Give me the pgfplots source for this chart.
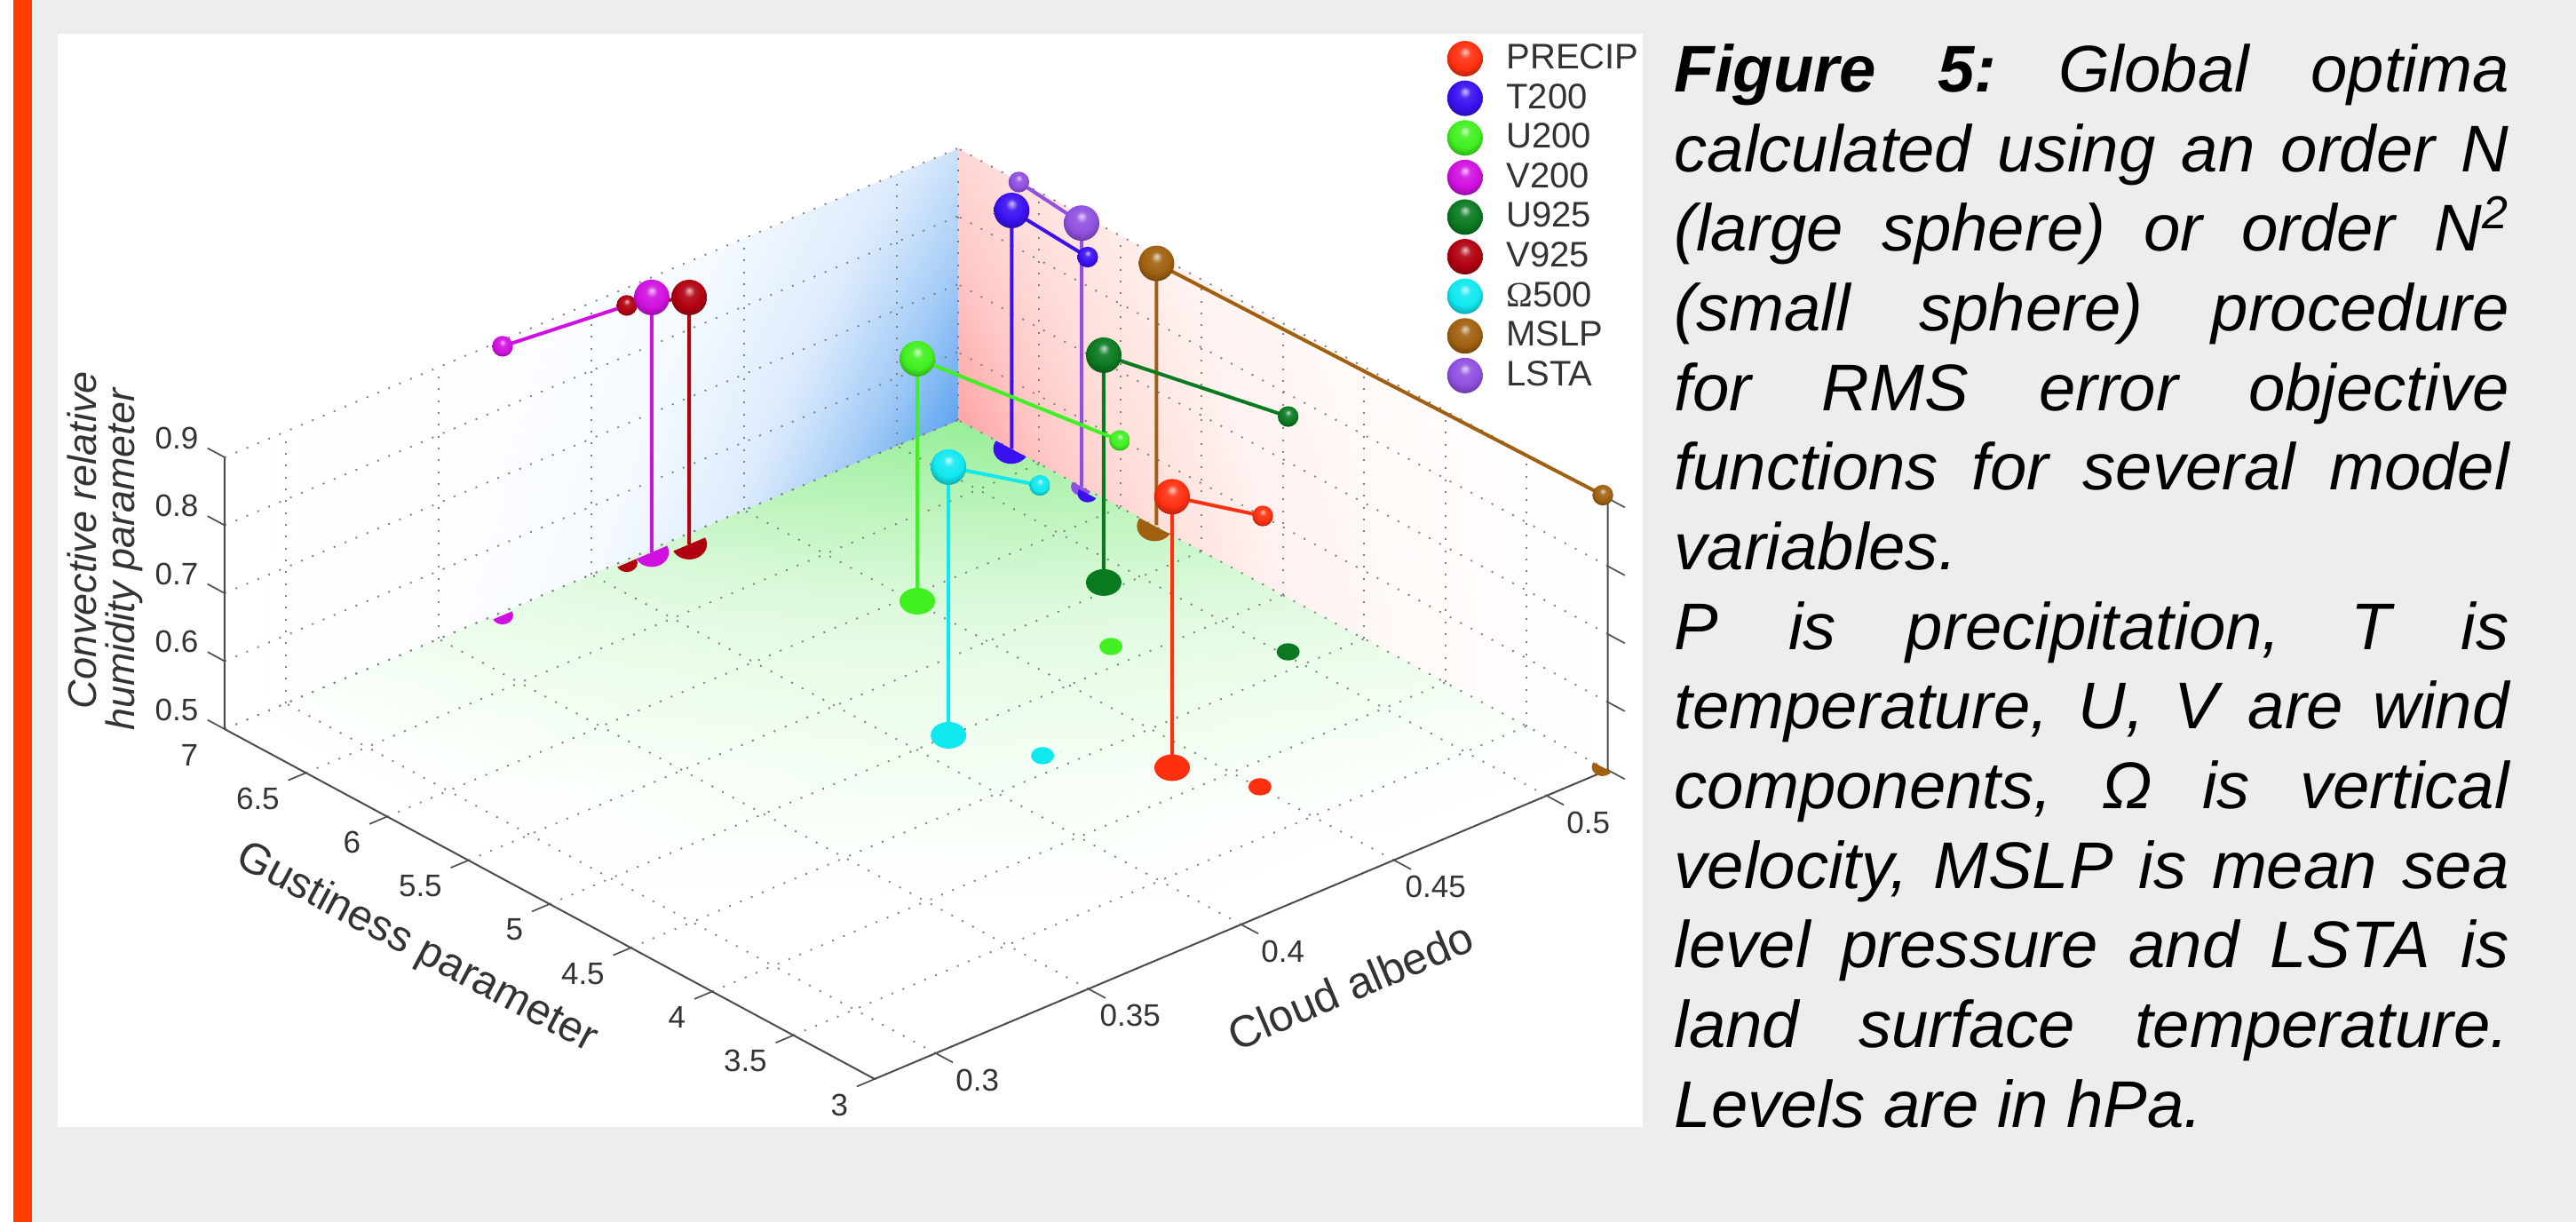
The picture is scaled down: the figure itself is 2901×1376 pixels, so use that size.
\documentclass[border=0pt]{standalone}
\usepackage{fontspec}
\setmainfont{Liberation Sans}
\usepackage{pgfplots}
\pgfplotsset{compat=1.18}
\usetikzlibrary{shadings}
\definecolor{cP}{RGB}{255,48,16}\definecolor{cT}{RGB}{58,16,240}\definecolor{cU}{RGB}{64,240,32}
\definecolor{cV}{RGB}{208,16,224}\definecolor{cUl}{RGB}{10,122,32}\definecolor{cVl}{RGB}{176,0,16}
\definecolor{cO}{RGB}{16,232,240}\definecolor{cM}{RGB}{160,96,16}\definecolor{cL}{RGB}{144,80,224}
\newcommand\mkball[1]{%
 \pgfdeclareradialshading{sh#1}{\pgfqpoint{0bp}{10bp}}{color(0bp)=(#1!25!white); color(8bp)=(#1!90!white); color(20bp)=(#1); color(30bp)=(#1!70!black); color(38bp)=(#1!35!black); color(50bp)=(black)}%
 \pgfdeclareplotmark{b#1}{\pgfpathcircle{\pgfpointorigin}{\pgfplotmarksize}\pgfshadepath{sh#1}{0}\pgfusepath{discard}}}
\mkball{cP}\mkball{cT}\mkball{cU}\mkball{cV}\mkball{cUl}\mkball{cVl}\mkball{cO}\mkball{cM}\mkball{cL}
\pgfdeclareplotmark{shfull}{\pgfpathellipse{\pgfpointorigin}{\pgfqpoint{\pgfplotmarksize}{0pt}}{\pgfqpoint{0pt}{.75\pgfplotmarksize}}\pgfusepathqfill}
\pgfdeclareplotmark{shL}{\pgfscope
 \pgfpathmoveto{\pgfqpoint{-2\pgfplotmarksize}{-.85\pgfplotmarksize}}\pgfpathlineto{\pgfqpoint{2\pgfplotmarksize}{.85\pgfplotmarksize}}\pgfpathlineto{\pgfqpoint{2\pgfplotmarksize}{-3\pgfplotmarksize}}\pgfpathlineto{\pgfqpoint{-2\pgfplotmarksize}{-3\pgfplotmarksize}}\pgfpathclose\pgfusepath{clip}
 \pgfpathellipse{\pgfpointorigin}{\pgfqpoint{\pgfplotmarksize}{0pt}}{\pgfqpoint{0pt}{.85\pgfplotmarksize}}\pgfusepathqfill\endpgfscope}
\pgfdeclareplotmark{shR}{\pgfscope
 \pgfpathmoveto{\pgfqpoint{-2\pgfplotmarksize}{1.06\pgfplotmarksize}}\pgfpathlineto{\pgfqpoint{2\pgfplotmarksize}{-1.06\pgfplotmarksize}}\pgfpathlineto{\pgfqpoint{2\pgfplotmarksize}{-3\pgfplotmarksize}}\pgfpathlineto{\pgfqpoint{-2\pgfplotmarksize}{-3\pgfplotmarksize}}\pgfpathclose\pgfusepath{clip}
 \pgfpathellipse{\pgfpointorigin}{\pgfqpoint{\pgfplotmarksize}{0pt}}{\pgfqpoint{0pt}{.85\pgfplotmarksize}}\pgfusepathqfill\endpgfscope}
\pgfplotsset{
 colormap={wallblue}{rgb255(0cm)=(255,255,255); rgb255(3cm)=(252,253,255); rgb255(5cm)=(245,250,255); rgb255(7cm)=(220,235,252); rgb255(8.5cm)=(165,205,247); rgb255(10cm)=(95,165,240)},
 colormap={wallpink}{rgb255(0cm)=(255,255,255); rgb255(3cm)=(255,250,248); rgb255(5cm)=(255,242,240); rgb255(7cm)=(255,222,218); rgb255(8.5cm)=(255,200,198); rgb255(10cm)=(255,165,165)},
 colormap={wallgreen}{rgb255(0cm)=(255,255,255); rgb255(1cm)=(251,255,251); rgb255(3cm)=(238,253,238); rgb255(5cm)=(222,250,222); rgb255(7cm)=(195,245,195); rgb255(10cm)=(150,238,150)},
 geom/.style={x={(1032pt,435pt)},y={(-54.9pt,29.55pt)},z={(0pt,229.5pt)},
  xmin=0.28,xmax=0.52,ymin=3,ymax=7,zmin=0.5,zmax=0.9,clip=false,anchor=south west,at={(0pt,0pt)}},
 sph/.style={forget plot,only marks,mark=b#1,mark size=6pt},
 sms/.style={forget plot,only marks,mark=b#1,mark size=3.5pt},
 lin/.style={forget plot,color=#1,line width=1.2pt,mark=none},
 fsh/.style={forget plot,only marks,mark=shfull,mark size=6pt,mark options={fill=#1,draw=none}},
 fss/.style={forget plot,only marks,mark=shfull,mark size=3.9pt,mark options={fill=#1,draw=none}},
 hL/.style 2 args={forget plot,only marks,mark=shL,mark size=#2,mark options={fill=#1,draw=none}},
 hR/.style 2 args={forget plot,only marks,mark=shR,mark size=#2,mark options={fill=#1,draw=none}},
 leg/.style={only marks,mark=b#1,mark size=6pt},
}
\begin{document}
\frenchspacing
\begin{tikzpicture}
\begin{scope}[x=0.3pt,y=-0.3pt,shift={(-253,-1215)}]
 \fill[white] (0,0) rectangle (2901,1376);
 \fill[fill={rgb,255:red,237;green,237;blue,237}] (15,0) rectangle (2901,1376);
 \fill[fill={rgb,255:red,255;green,61;blue,0}] (15,0) rectangle (36,1376);
 \fill[white] (65,38) rectangle (1850,1269);
\end{scope}
\begin{axis}[geom,hide axis,point meta min=0,point meta max=1]
\addplot3[surf,shader=interp,colormap name=wallblue,mesh/rows=3,point meta=\thisrow{m},forget plot] table {
x y z m
0.28 7 0.5 0
0.40 7 0.5 0.5
0.46 7 0.5 0.75
0.49 7 0.5 0.875
0.52 7 0.5 1
0.28 7 0.7 0
0.40 7 0.7 0.4375
0.46 7 0.7 0.656
0.49 7 0.7 0.766
0.52 7 0.7 0.875
0.28 7 0.9 0
0.40 7 0.9 0.375
0.46 7 0.9 0.5625
0.49 7 0.9 0.656
0.52 7 0.9 0.75
};
\addplot3[surf,shader=interp,colormap name=wallpink,mesh/rows=3,point meta=\thisrow{m},forget plot] table {
x y z m
0.52 3 0.5 0
0.52 5 0.5 0.5
0.52 6 0.5 0.75
0.52 6.5 0.5 0.875
0.52 7 0.5 1
0.52 3 0.7 0
0.52 5 0.7 0.4375
0.52 6 0.7 0.656
0.52 6.5 0.7 0.766
0.52 7 0.7 0.875
0.52 3 0.9 0
0.52 5 0.9 0.375
0.52 6 0.9 0.5625
0.52 6.5 0.9 0.656
0.52 7 0.9 0.75
};
\addplot3[surf,shader=interp,colormap name=wallgreen,mesh/rows=5,point meta=\thisrow{m},forget plot] table {
x y z m
0.28 3 0.5 0
0.40 3 0.5 0
0.46 3 0.5 0
0.49 3 0.5 0
0.52 3 0.5 0
0.28 5 0.5 0
0.40 5 0.5 0.25
0.46 5 0.5 0.375
0.49 5 0.5 0.4375
0.52 5 0.5 0.5
0.28 6 0.5 0
0.40 6 0.5 0.375
0.46 6 0.5 0.5625
0.49 6 0.5 0.656
0.52 6 0.5 0.75
0.28 6.5 0.5 0
0.40 6.5 0.5 0.4375
0.46 6.5 0.5 0.656
0.49 6.5 0.5 0.766
0.52 6.5 0.5 0.875
0.28 7 0.5 0
0.40 7 0.5 0.5
0.46 7 0.5 0.75
0.49 7 0.5 0.875
0.52 7 0.5 1
};
\end{axis}
\begin{axis}[geom,
 axis line style={draw=none},
 xtick={0.3,0.35,0.4,0.45,0.5},xticklabels={0.3,0.35,0.4,0.45,0.5},
 ytick={3,3.5,4,4.5,5,5.5,6,6.5,7},yticklabels={3,3.5,4,4.5,5,5.5,6,6.5,7},
 ztick={0.5,0.6,0.7,0.8,0.9},zticklabels={0.5,0.6,0.7,0.8,0.9},
 grid=major,grid style={black!50,line width=.55pt,dash pattern=on .6pt off 3.4pt},
 major tick length=0pt,tick style={draw=none},
 xtick pos=left,ytick pos=left,
 tick label style={font=\fontsize{10.5}{12}\selectfont,text=black!80},
 xticklabel style={anchor=center,xshift=14.1pt,yshift=-9pt},
 yticklabel style={anchor=east,xshift=-5.4pt,yshift=-8.7pt},
 zticklabel style={anchor=center,xshift=-16.2pt,yshift=6.6pt},
 legend style={at={(axis description cs:0.8835,1.119)},anchor=north west,draw=none,fill=none,font=\fontsize{12}{13}\selectfont,text=black!80,row sep=-.5pt,inner sep=0pt,/tikz/every odd column/.append style={column sep=6pt}},
 legend cell align=left,
]
\addlegendimage{leg=cP}\addlegendentry{PRECIP}
\addlegendimage{leg=cT}\addlegendentry{T200}
\addlegendimage{leg=cU}\addlegendentry{U200}
\addlegendimage{leg=cV}\addlegendentry{V200}
\addlegendimage{leg=cUl}\addlegendentry{U925}
\addlegendimage{leg=cVl}\addlegendentry{V925}
\addlegendimage{leg=cO}\addlegendentry{{\fontspec{Liberation Serif}Ω}500}
\addlegendimage{leg=cM}\addlegendentry{MSLP}
\addlegendimage{leg=cL}\addlegendentry{LSTA}
% box edges
\addplot3[forget plot,black!70,line width=.6pt] coordinates {(0.28,7,0.9)(0.28,7,0.5)(0.28,3,0.5)(0.52,3,0.5)(0.52,3,0.9)};
% tick marks, each a short segment
\addplot3[forget plot,black!70,line width=.5pt,unbounded coords=jump] coordinates {
 (0.3,3,0.5)(0.3,2.895,0.5)(0.3,nan,0.5)
 (0.35,3,0.5)(0.35,2.895,0.5)(0.35,nan,0.5)
 (0.4,3,0.5)(0.4,2.895,0.5)(0.4,nan,0.5)
 (0.45,3,0.5)(0.45,2.895,0.5)(0.45,nan,0.5)
 (0.5,3,0.5)(0.5,2.895,0.5)(0.5,nan,0.5)
 (0.28,3,0.5)(0.2742,3,0.5)(0.28,nan,0.5)
 (0.28,3.5,0.5)(0.2742,3.5,0.5)(0.28,nan,0.5)
 (0.28,4,0.5)(0.2742,4,0.5)(0.28,nan,0.5)
 (0.28,4.5,0.5)(0.2742,4.5,0.5)(0.28,nan,0.5)
 (0.28,5,0.5)(0.2742,5,0.5)(0.28,nan,0.5)
 (0.28,5.5,0.5)(0.2742,5.5,0.5)(0.28,nan,0.5)
 (0.28,6,0.5)(0.2742,6,0.5)(0.28,nan,0.5)
 (0.28,6.5,0.5)(0.2742,6.5,0.5)(0.28,nan,0.5)
 (0.28,7,0.5)(0.28,7.105,0.5)(0.28,nan,0.5)
 (0.28,7,0.6)(0.28,7.105,0.6)(0.28,nan,0.6)
 (0.28,7,0.7)(0.28,7.105,0.7)(0.28,nan,0.7)
 (0.28,7,0.8)(0.28,7.105,0.8)(0.28,nan,0.8)
 (0.28,7,0.9)(0.28,7.105,0.9)(0.28,nan,0.9)
 (0.52,3,0.5)(0.52,2.895,0.5)(0.52,nan,0.5)
 (0.52,3,0.6)(0.52,2.895,0.6)(0.52,nan,0.6)
 (0.52,3,0.7)(0.52,2.895,0.7)(0.52,nan,0.7)
 (0.52,3,0.8)(0.52,2.895,0.8)(0.52,nan,0.8)
 (0.52,3,0.9)(0.52,2.895,0.9)
};
% floor shadows
\addplot3[fsh=cP] coordinates {(0.4408,4.192,0.5)};
\addplot3[fss=cP] coordinates {(0.4504,3.832,0.5)};
\addplot3[fsh=cO] coordinates {(0.4108,5.004,0.5)};
\addplot3[fss=cO] coordinates {(0.4211,4.619,0.5)};
\addplot3[fsh=cU] coordinates {(0.4508,5.948,0.5)};
\addplot3[fss=cU] coordinates {(0.4709,5.134,0.5)};
\addplot3[fsh=cUl] coordinates {(0.4914,5.564,0.5)};
\addplot3[fss=cUl] coordinates {(0.5016,4.621,0.5)};
\addplot3[hL={cV}{3.6pt}] coordinates {(0.3698,6.978,0.5)};
\addplot3[hL={cVl}{3.6pt}] coordinates {(0.4105,6.978,0.5)};
\addplot3[hL={cV}{5.8pt}] coordinates {(0.4187,6.979,0.5)};
\addplot3[hL={cVl}{6pt}] coordinates {(0.4283,6.929,0.5)};
\addplot3[hR={cL}{3.6pt}] coordinates {(0.52,6.238,0.5)};
\addplot3[hR={cT}{3.4pt}] coordinates {(0.5187,6.176,0.5)};
\addplot3[hR={cT}{6pt}] coordinates {(0.52,6.672,0.5)};
\addplot3[hR={cM}{6pt}] coordinates {(0.52,5.788,0.5)};
\addplot3[hR={cM}{3.6pt}] coordinates {(0.52,3.033,0.5)};
% connecting lines: small sphere, large sphere, foot on the floor
\addplot3[lin=cL] coordinates {(0.5208,6.639,0.8953)(0.52,6.238,0.888)(0.52,6.238,0.5)};
\addplot3[lin=cT] coordinates {(0.5187,6.176,0.8484)(0.5202,6.672,0.8503)(0.5202,6.672,0.5)};
\addplot3[lin=cM] coordinates {(0.52015,3.033,0.9)(0.5206,5.788,0.8855)(0.5206,5.788,0.5)};
\addplot3[lin=cUl] coordinates {(0.5016,4.621,0.8464)(0.4914,5.564,0.8346)(0.4914,5.564,0.5)};
\addplot3[lin=cU] coordinates {(0.4725,5.110,0.8033)(0.4508,5.948,0.8569)(0.4508,5.948,0.5)};
\addplot3[lin=cO] coordinates {(0.4206,4.626,0.8979)(0.4108,5.004,0.8948)(0.4108,5.004,0.5)};
\addplot3[lin=cP] coordinates {(0.4509,3.824,0.8987)(0.4408,4.192,0.8988)(0.4408,4.192,0.5)};
\addplot3[lin=cVl] coordinates {(0.4105,6.978,0.8791)(0.4283,6.929,0.8634)(0.4283,6.929,0.5)};
\addplot3[lin=cV] coordinates {(0.3698,6.978,0.8961)(0.4187,6.979,0.8752)(0.4187,6.979,0.5)};
% spheres
\addplot3[sms=cL] coordinates {(0.5208,6.639,0.8953)};
\addplot3[sph=cL] coordinates {(0.52,6.238,0.888)};
\addplot3[sph=cT] coordinates {(0.5202,6.672,0.8503)};
\addplot3[sms=cT] coordinates {(0.5187,6.176,0.8484)};
\addplot3[sph=cM] coordinates {(0.5206,5.788,0.8855)};
\addplot3[sms=cM] coordinates {(0.52015,3.033,0.9)};
\addplot3[sph=cUl] coordinates {(0.4914,5.564,0.8346)};
\addplot3[sms=cUl] coordinates {(0.5016,4.621,0.8464)};
\addplot3[sph=cU] coordinates {(0.4508,5.948,0.8569)};
\addplot3[sms=cU] coordinates {(0.4725,5.110,0.8033)};
\addplot3[sph=cO] coordinates {(0.4108,5.004,0.8948)};
\addplot3[sms=cO] coordinates {(0.4206,4.626,0.8979)};
\addplot3[sph=cP] coordinates {(0.4408,4.192,0.8988)};
\addplot3[sms=cP] coordinates {(0.4509,3.824,0.8987)};
\addplot3[sms=cVl] coordinates {(0.4105,6.978,0.8791)};
\addplot3[sph=cVl] coordinates {(0.4283,6.929,0.8634)};
\addplot3[sph=cV] coordinates {(0.4187,6.979,0.8752)};
\addplot3[sms=cV] coordinates {(0.3698,6.978,0.8961)};
\end{axis}
\begin{scope}[x=0.3pt,y=-0.3pt,shift={(-253,-1215)}]
 \node[rotate=23,font=\fontsize{15}{16}\selectfont,text=black!80] at (1521,1110) {Cloud albedo};
 \node[rotate=-28,font=\fontsize{14.6}{16}\selectfont,text=black!80] at (469,1068) {Gustiness parameter};
 \node[rotate=90,font=\fontsize{13.5}{15}\selectfont\itshape,text=black!80] at (92,608) {Convective relative};
 \node[rotate=90,font=\fontsize{13.5}{15}\selectfont\itshape,text=black!80] at (140,630) {humidity parameter};
 \node[anchor=north west,inner sep=0pt,text width=282pt,align=justify,font=\fontsize{22.3}{26.9}\selectfont\itshape] at (1885,49) {%
 {\bfseries Figure 5:} Global optima\linebreak[4]
 calculated using an order N\linebreak[4]
 (large sphere) or order N\textsuperscript{2}\linebreak[4]
 (small sphere) procedure\linebreak[4]
 for RMS error objective\linebreak[4]
 functions for several model\linebreak[4]
 variables.\par
 P is precipitation, T is\linebreak[4]
 temperature, U, V are wind\linebreak[4]
 components, Ω is vertical\linebreak[4]
 velocity, MSLP is mean sea\linebreak[4]
 level pressure and LSTA is\linebreak[4]
 land surface temperature.\linebreak[4]
 Levels are in hPa.};
\end{scope}
\end{tikzpicture}
\end{document}
